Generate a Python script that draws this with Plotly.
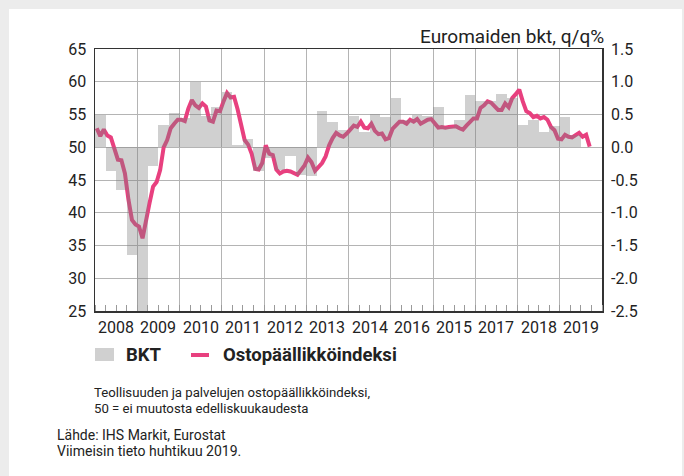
import plotly.graph_objects as go

# ---------------- data ----------------
YEAR_LABELS = ["2008", "2009", "2010", "2011", "2012", "2013",
               "2014", "2016", "2015", "2017", "2018", "2019"]
LEFT_TICKS = [25, 30, 35, 40, 45, 50, 55, 60, 65]
RIGHT_TICK_VALUES = [-2.5, -2.0, -1.5, -1.0, -0.5, 0.0, 0.5, 1.0, 1.5]
RIGHT_TICK_LABELS = ["-2.5", "-2.0", "-1.5", "-1.0", "-0.5", "0.0", "0.5", "1.0", "1.5"]

# Euro area GDP q/q %, 2008Q1 .. 2019Q2
GDP_QOQ = [
    0.50, -0.36, -0.65, -1.64,
    -2.90, -0.29, 0.34, 0.52,
    0.45, 0.99, 0.48, 0.62,
    0.84, 0.03, 0.13, -0.37,
    -0.17, -0.35, -0.14, -0.42,
    -0.44, 0.56, 0.38, 0.26,
    0.48, 0.23, 0.51, 0.46,
    0.75, 0.42, 0.49, 0.48,
    0.61, 0.31, 0.42, 0.80,
    0.70, 0.70, 0.82, 0.75,
    0.34, 0.41, 0.24, 0.33,
    0.46, 0.18,
]

# Composite PMI, monthly Jan 2008 .. Sep 2019
PMI = [
    52.9, 51.7, 52.7, 51.8, 51.5, 49.6, 48.1, 48.0, 46.0, 42.0, 38.9, 38.2,   # 2008
    37.9, 36.1, 38.5, 41.5, 44.0, 44.7, 46.5, 50.0, 51.1, 52.9, 53.6, 54.2,   # 2009
    54.2, 54.0, 55.9, 57.2, 56.4, 56.0, 56.7, 56.2, 54.1, 53.9, 55.6, 55.5,   # 2010
    57.0, 58.3, 57.6, 57.7, 55.8, 53.1, 51.1, 50.4, 49.0, 46.7, 46.6, 47.6,   # 2011
    50.3, 49.0, 48.8, 46.6, 46.0, 46.3, 46.4, 46.3, 46.0, 45.8, 46.5, 47.2,   # 2012
    48.4, 47.7, 46.4, 46.9, 47.6, 48.6, 50.3, 51.4, 52.2, 51.8, 51.6, 52.1,   # 2013
    52.8, 53.3, 53.1, 53.9, 53.0, 52.9, 53.6, 52.5, 52.0, 52.1, 51.2, 51.4,   # 2014
    52.8, 53.3, 53.9, 53.9, 53.6, 54.2, 53.9, 54.3, 53.6, 53.9, 54.2, 54.3,   # 2015
    53.6, 53.0, 53.1, 53.0, 53.1, 53.1, 53.2, 52.9, 52.7, 53.3, 53.9, 54.4,   # 2016
    54.4, 56.0, 56.4, 57.0, 56.8, 56.3, 55.7, 55.7, 56.7, 56.1, 57.5, 58.1,   # 2017
    58.8, 57.0, 55.5, 55.2, 54.6, 54.8, 54.4, 54.6, 54.2, 53.1, 52.6, 51.3,   # 2018
    51.2, 51.9, 51.6, 51.5, 51.8, 52.2, 51.6, 51.9, 50.1,                     # 2019
]

# ---------------- layout constants ----------------
W, H = 684, 476
ML, MR, MT, MB = 95, 82, 49, 165
PW, PH = W - ML - MR, H - MT - MB
FONT = "Roboto, Arial, sans-serif"
PINK = "#e8407f"
DARK = "#222222"


def px(x):
    return (x - ML) / PW


def py(y):
    return (H - MB - y) / PH


months_per_year = 12
n_years = len(YEAR_LABELS)
quarter_x = [3 * i + 1.5 for i in range(len(GDP_QOQ))]
month_x = [i + 0.5 for i in range(len(PMI))]

fig = go.Figure()
fig.add_trace(go.Bar(
    x=quarter_x, y=GDP_QOQ, width=3, yaxis="y2",
    marker=dict(color="rgba(128,128,128,0.37)", line=dict(width=0)),
    name="BKT", showlegend=False, hoverinfo="skip",
))
fig.add_trace(go.Scatter(
    x=month_x, y=PMI, mode="lines", yaxis="y",
    line=dict(color=PINK, width=4),
    name="Ostopäällikköindeksi", showlegend=False, hoverinfo="skip",
))

year_bounds = [months_per_year * i for i in range(n_years + 1)]

fig.update_layout(
    width=W, height=H,
    margin=dict(l=ML, r=MR, t=MT, b=MB, pad=0),
    paper_bgcolor="#ececec",
    plot_bgcolor="white",
    font=dict(family=FONT, size=16, color=DARK),
    bargap=0,
    xaxis=dict(
        range=[0, months_per_year * n_years],
        tickmode="array", tickvals=year_bounds, ticktext=[""] * len(year_bounds),
        showgrid=True, gridcolor="#b4b4b4", gridwidth=1,
        ticks="", zeroline=False,
        showline=True, linecolor="#333333", linewidth=1.5, mirror=True,
        minor=dict(dtick=3, tick0=0, ticks="inside", ticklen=6,
                   tickcolor="#9a9a9a", tickwidth=1, showgrid=False),
    ),
    yaxis=dict(
        range=[25, 65], tickmode="array", tickvals=LEFT_TICKS,
        showgrid=True, gridcolor="#b4b4b4", gridwidth=1,
        zeroline=False, ticks="",
        showline=True, linecolor="#333333", linewidth=1.5, mirror=True,
        tickfont=dict(family=FONT, size=16, color=DARK),
        ticklabelstandoff=4,
    ),
    yaxis2=dict(
        range=[-2.5, 1.5], overlaying="y", side="right",
        tickmode="array", tickvals=RIGHT_TICK_VALUES, ticktext=RIGHT_TICK_LABELS,
        showgrid=False, zeroline=False, ticks="", showline=False,
        tickfont=dict(family=FONT, size=16, color=DARK),
        ticklabelstandoff=8,
    ),
    showlegend=False,
)

shapes = [
    dict(type="rect", xref="paper", yref="paper",
         x0=px(9), x1=px(682), y0=py(H + 10), y1=py(9),
         fillcolor="white", line=dict(width=0), layer="below"),
    dict(type="rect", xref="paper", yref="paper",
         x0=px(95), x1=px(114), y0=py(361), y1=py(348),
         fillcolor="#d0d0d0", line=dict(width=0)),
    dict(type="line", xref="paper", yref="paper",
         x0=px(191), x1=px(209), y0=py(355), y1=py(355),
         line=dict(color=PINK, width=4)),
]
fig.update_layout(shapes=shapes)

ann = []
ann.append(dict(text="Euromaiden bkt, q/q%", xref="paper", yref="paper",
                x=px(606), y=py(37), xanchor="right", yanchor="middle",
                showarrow=False, font=dict(family=FONT, size=19, color=DARK)))
for i, lab in enumerate(YEAR_LABELS):
    ann.append(dict(text=lab, xref="x", yref="paper",
                    x=months_per_year * i + months_per_year / 2, y=py(327),
                    xanchor="center", yanchor="middle", showarrow=False,
                    font=dict(family=FONT, size=16, color=DARK)))
ann.append(dict(text="<b>BKT</b>", xref="paper", yref="paper", x=px(124), y=py(355),
                xanchor="left", yanchor="middle", showarrow=False,
                font=dict(family=FONT, size=18.5, color=DARK)))
ann.append(dict(text="<b>Ostopäällikköindeksi</b>", xref="paper", yref="paper",
                x=px(221), y=py(355), xanchor="left", yanchor="middle", showarrow=False,
                font=dict(family=FONT, size=18.5, color=DARK)))
for txt, yy, xx, fs in [
    ("Teollisuuden ja palvelujen ostopäällikköindeksi,", 392, 92, 13.2),
    ("50 = ei muutosta edelliskuukaudesta", 408, 92, 13.2),
    ("Lähde: IHS Markit, Eurostat", 435, 55, 14),
    ("Viimeisin tieto huhtikuu 2019.", 451, 55, 14),
]:
    ann.append(dict(text=txt, xref="paper", yref="paper", x=px(xx), y=py(yy),
                    xanchor="left", yanchor="middle", showarrow=False,
                    font=dict(family=FONT, size=fs, color=DARK)))
fig.update_layout(annotations=ann)

fig.write_html("out.html",
               config={"displayModeBar": False, "staticPlot": True},
               post_script="document.body.style.margin='0';"
                           "document.body.style.background='#ececec';")
